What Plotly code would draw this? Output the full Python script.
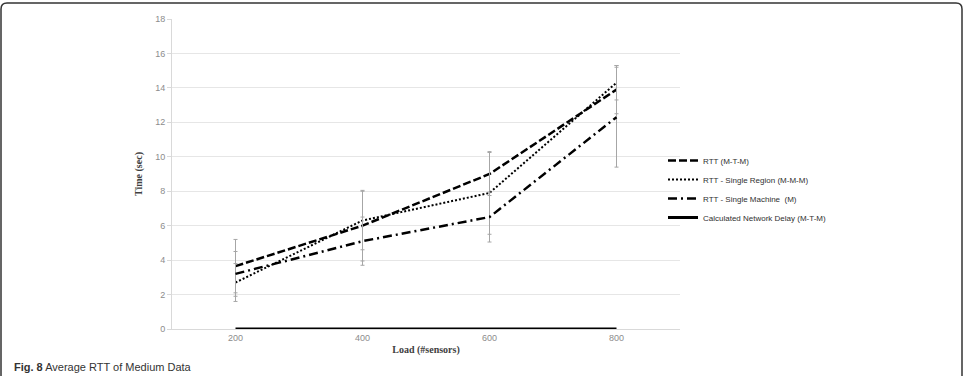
import plotly.graph_objects as go

loads = ["200", "400", "600", "800"]
series_names = ["RTT (M-T-M)", "RTT - Single Region (M-M-M)",
                "RTT - Single Machine  (M)", "Calculated Network Delay (M-T-M)"]
rtt_mtm = [3.65, 6.0, 9.0, 13.9]
rtt_region = [2.7, 6.3, 7.9, 14.3]
rtt_machine = [3.2, 5.1, 6.5, 12.3]
net_delay = [0, 0, 0, 0]
err_mtm = [1.55, 2.05, 1.25, 1.4]
err_region = [1.1, 1.7, 2.4, 1.0]
err_machine = [1.3, 1.4, 1.45, 2.9]

L, R, T, B = 172, 680, 19, 329
W, H = 967, 376
def px(x): return (x - L) / (R - L)
def py(y): return (B - y) / (B - T)

styles = [
    dict(width=2.5, dash="8px,3px"),
    dict(width=2, dash="2px,2px"),
    dict(width=2.5, dash="9px,4px,2px,4px"),
    dict(width=3, dash="solid"),
]
values = [rtt_mtm, rtt_region, rtt_machine, net_delay]
errors = [err_mtm, err_region, err_machine, None]

fig = go.Figure()
for name, vals, err, st in zip(series_names, values, errors, styles):
    kw = {}
    if err is not None:
        kw["error_y"] = dict(type="data", array=err, visible=True,
                             color="#a6a6a6", thickness=1, width=2)
    fig.add_trace(go.Scatter(x=loads, y=vals, name=name, mode="lines",
                             line=dict(color="black", **st), **kw))

# frame (rounded rectangle, bottom cut off by the image edge)
x0, x1, yt, yb = px(1), px(962), py(3), py(420)
rx, ry = 6 / (R - L), 6 / (B - T)
path = (f"M{x0},{yb} L{x0},{yt-ry} Q{x0},{yt} {x0+rx},{yt} "
        f"L{x1-rx},{yt} Q{x1},{yt} {x1},{yt-ry} L{x1},{yb}")

fig.update_layout(
    width=W, height=H,
    margin=dict(l=L, r=W - R, t=T, b=H - B),
    paper_bgcolor="white", plot_bgcolor="white",
    showlegend=True,
    legend=dict(x=px(663), y=py(146), xanchor="left", yanchor="top",
                font=dict(family="Liberation Sans", size=8, color="#303030"),
                bgcolor="rgba(0,0,0,0)", itemwidth=30, tracegroupgap=0),
    shapes=[dict(type="path", path=path, xref="paper", yref="paper",
                 line=dict(color="#333333", width=1.5))],
    annotations=[dict(x=px(12), y=py(375), xref="paper", yref="paper",
                      xanchor="left", yanchor="bottom", showarrow=False,
                      text="<b>Fig. 8</b> Average RTT of Medium Data",
                      font=dict(family="Liberation Sans", size=11, color="#333333"))],
)
fig.update_xaxes(type="category", range=[-0.5, 3.5], showgrid=False,
                 showline=True, linecolor="#d9d9d9", linewidth=1,
                 tickfont=dict(family="Liberation Sans", size=9, color="#8c8c8c"),
                 title=dict(text="<b>Load (#sensors)</b>", standoff=4,
                            font=dict(family="Liberation Serif", size=10, color="#404040")))
fig.update_yaxes(range=[0, 18], dtick=2, showgrid=True, gridcolor="#e6e6e6",
                 zeroline=False, showline=True, linecolor="#d9d9d9",
                 ticks="outside", ticklen=4, tickcolor="#d9d9d9",
                 tickfont=dict(family="Liberation Sans", size=9, color="#8c8c8c"),
                 title=dict(text="<b>Time (sec)</b>", standoff=10,
                            font=dict(family="Liberation Serif", size=10, color="#404040")))

fig.write_html("out.html")
